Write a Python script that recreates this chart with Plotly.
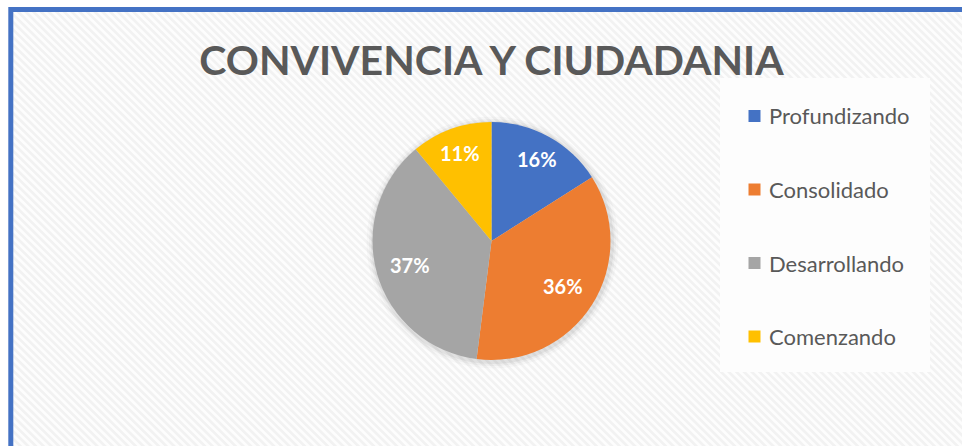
import base64
import math
import plotly.graph_objects as go

# ---- data ----
labels = ["Profundizando", "Consolidado", "Desarrollando", "Comenzando"]
values = [16, 36, 37, 11]
colors = ["#4472C4", "#ED7D31", "#A5A5A5", "#FFC000"]
title_text = "CONVIVENCIA Y CIUDADANIA"

W, H = 962, 446
def px(x):
    return x / W
def py(y):
    return 1 - y / H

# hatched background as an inline SVG image
svg = (
    "<svg xmlns='http://www.w3.org/2000/svg' width='962' height='446'>"
    "<defs><pattern id='p' width='5.5' height='5.5' patternUnits='userSpaceOnUse' "
    "patternTransform='rotate(-45)'>"
    "<rect width='5.5' height='5.5' fill='#f2f2f2'/>"
    "<rect width='2.8' height='5.5' fill='#fdfdfd'/></pattern></defs>"
    "<rect width='962' height='446' fill='url(#p)'/></svg>"
)
src = "data:image/svg+xml;base64," + base64.b64encode(svg.encode()).decode()

cx, cy, r = 491.5, 241, 119

fig = go.Figure()

# soft shadow behind the pie
for grow, alpha in [(7, 0.025), (4.5, 0.035), (2.5, 0.05)]:
    fig.add_trace(go.Pie(
        values=[1], marker=dict(colors=[f"rgba(0,0,0,{alpha})"], line=dict(width=0)),
        textinfo="none", hoverinfo="skip", showlegend=False, sort=False,
        domain=dict(x=[px(cx - r - grow + 1), px(cx + r + grow + 1)],
                    y=[py(cy + r + grow + 1.5), py(cy - r - grow + 1.5)]),
    ))

fig.add_trace(go.Pie(
    labels=labels,
    values=values,
    marker=dict(colors=colors, line=dict(width=0)),
    sort=False,
    direction="clockwise",
    rotation=0,
    textinfo="none",
    showlegend=False,
    domain=dict(x=[px(cx - r), px(cx + r)], y=[py(cy + r), py(cy - r)]),
    hoverinfo="label+percent",
))

shapes = []
annotations = []

# percentage labels placed at the slice mid-angles (from data)
total = sum(values)
cum = 0
for v in values:
    mid = (cum + v / 2) / total * 2 * math.pi
    cum += v
    rr = (0.79 if v / total < 0.2 else 0.71) * r
    lx = cx + rr * math.sin(mid)
    ly = cy - rr * math.cos(mid)
    annotations.append(dict(text=f"{round(v / total * 100)}%", xref="paper", yref="paper",
                            x=px(lx), y=py(ly), xanchor="center", yanchor="middle",
                            showarrow=False,
                            font=dict(family="Lato", size=20, color="white", weight="bold")))

# frame
shapes.append(dict(type="rect", xref="paper", yref="paper",
                   x0=px(10.8), x1=px(W + 20), y0=py(H + 20), y1=py(9.5),
                   line=dict(color="#4472C4", width=5), fillcolor="rgba(0,0,0,0)",
                   layer="above"))

# legend box
shapes.append(dict(type="rect", xref="paper", yref="paper",
                   x0=px(720), x1=px(930), y0=py(372), y1=py(78),
                   line=dict(width=0), fillcolor="#fdfdfd", layer="below"))

leg_y = [116, 189.5, 263, 336.5]
for lab, col, yy in zip(labels, colors, leg_y):
    shapes.append(dict(type="rect", xref="paper", yref="paper",
                       x0=px(748.5), x1=px(760.5), y0=py(yy + 6), y1=py(yy - 6),
                       line=dict(width=0), fillcolor=col))
    annotations.append(dict(text=lab, xref="paper", yref="paper",
                            x=px(767), y=py(yy), xanchor="left", yanchor="middle",
                            showarrow=False,
                            font=dict(family="Lato", size=22, color="#595959")))

fig.update_layout(
    width=W, height=H,
    margin=dict(l=0, r=0, t=0, b=0),
    paper_bgcolor="white",
    plot_bgcolor="rgba(0,0,0,0)",
    title=dict(text=title_text, x=px(491.5), xanchor="center",
               y=py(61), yanchor="middle",
               font=dict(family="Lato", size=41, color="#595959", weight="bold")),
    images=[dict(source=src, xref="paper", yref="paper", x=px(12), y=py(11.5),
                 sizex=px(W) - px(12), sizey=py(11.5), sizing="stretch",
                 layer="below")],
    shapes=shapes,
    annotations=annotations,
)

fig.write_html("out.html",
               config={"displayModeBar": False},
               post_script="document.body.style.margin='0';document.body.style.overflow='hidden';")
